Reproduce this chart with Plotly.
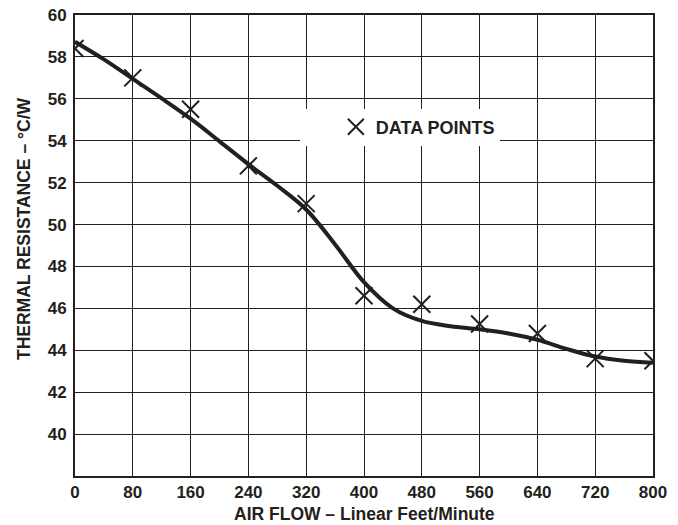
import plotly.graph_objects as go

# Measured data points (air flow in LFM, thermal resistance in °C/W)
airflow_pts = [0, 80, 160, 240, 320, 400, 480, 560, 640, 720, 800]
resist_pts = [58.4, 57.0, 55.5, 52.8, 51.0, 46.6, 46.2, 45.25, 44.8, 43.6, 43.5]

# Fitted curve
curve_x = [0, 40, 80, 120, 160, 200, 240, 280, 320, 360, 400, 440, 480, 520, 560, 600, 640, 680, 720, 760, 800]
curve_y = [58.72, 57.88, 56.95, 56.02, 55.05, 53.97, 52.88, 51.85, 50.72, 49.05, 47.25, 46.0, 45.4, 45.15, 45.0, 44.8, 44.5, 44.07, 43.7, 43.5, 43.4]

x_ticks = [0, 80, 160, 240, 320, 400, 480, 560, 640, 720, 800]
y_ticks = [40, 42, 44, 46, 48, 50, 52, 54, 56, 58, 60]

x_title = "AIR FLOW – Linear Feet/Minute"
y_title = "THERMAL RESISTANCE – °C/W"

FONT = "Liberation Sans, Arial, Helvetica, sans-serif"
INK = "#231f20"

fig = go.Figure()
fig.add_trace(go.Scatter(
    x=curve_x, y=curve_y, mode="lines",
    line=dict(color=INK, width=4, shape="spline", smoothing=1.0),
    showlegend=False, hoverinfo="skip",
))
fig.add_trace(go.Scatter(
    x=airflow_pts, y=resist_pts, mode="markers", name="DATA POINTS",
    marker=dict(symbol="x-thin", size=17, line=dict(color=INK, width=2)),
))

fig.update_layout(
    width=678, height=525,
    margin=dict(l=75, r=25, t=15, b=49, autoexpand=False),
    paper_bgcolor="white", plot_bgcolor="white",
    font=dict(family=FONT, color=INK, size=17),
    legend=dict(
        x=0.389, y=0.757, xanchor="left", yanchor="middle",
        bgcolor="white", borderwidth=0,
        font=dict(family=FONT, size=18, weight="bold", color=INK),
        itemwidth=30, indentation=36,
    ),
    annotations=[
        dict(text=x_title, x=0.5, y=-0.1055, xref="paper", yref="paper",
             xanchor="center", yanchor="bottom", showarrow=False, borderpad=0,
             font=dict(family=FONT, size=17.5, weight="bold", color=INK)),
        dict(text=y_title, x=-0.088, y=0.536, xref="paper", yref="paper",
             xanchor="center", yanchor="middle", showarrow=False, textangle=-90,
             font=dict(family=FONT, size=17.5, weight="bold", color=INK)),
    ],
)
fig.update_xaxes(
    range=[0, 800], tickvals=x_ticks, ticktext=[str(v) for v in x_ticks],
    showgrid=True, gridcolor=INK, gridwidth=1.2,
    showline=True, linecolor=INK, linewidth=2, mirror=True,
    ticks="", ticklabelstandoff=0, automargin=False, ticklabeloverflow="allow",
    tickfont=dict(family=FONT, size=17, weight="bold", color=INK),
    zeroline=False,
)
fig.update_yaxes(
    range=[38, 60], tickvals=y_ticks, ticktext=[str(v) for v in y_ticks],
    showgrid=True, gridcolor=INK, gridwidth=1.2,
    showline=True, linecolor=INK, linewidth=2, mirror=True,
    ticks="", ticklabelstandoff=3, automargin=False, ticklabeloverflow="allow",
    tickfont=dict(family=FONT, size=17, weight="bold", color=INK),
    zeroline=False,
)

# remove the default 8px page margin so the figure fills the window exactly
fig.write_html("out.html", config={"displayModeBar": False},
               post_script="document.body.style.margin='0';")
